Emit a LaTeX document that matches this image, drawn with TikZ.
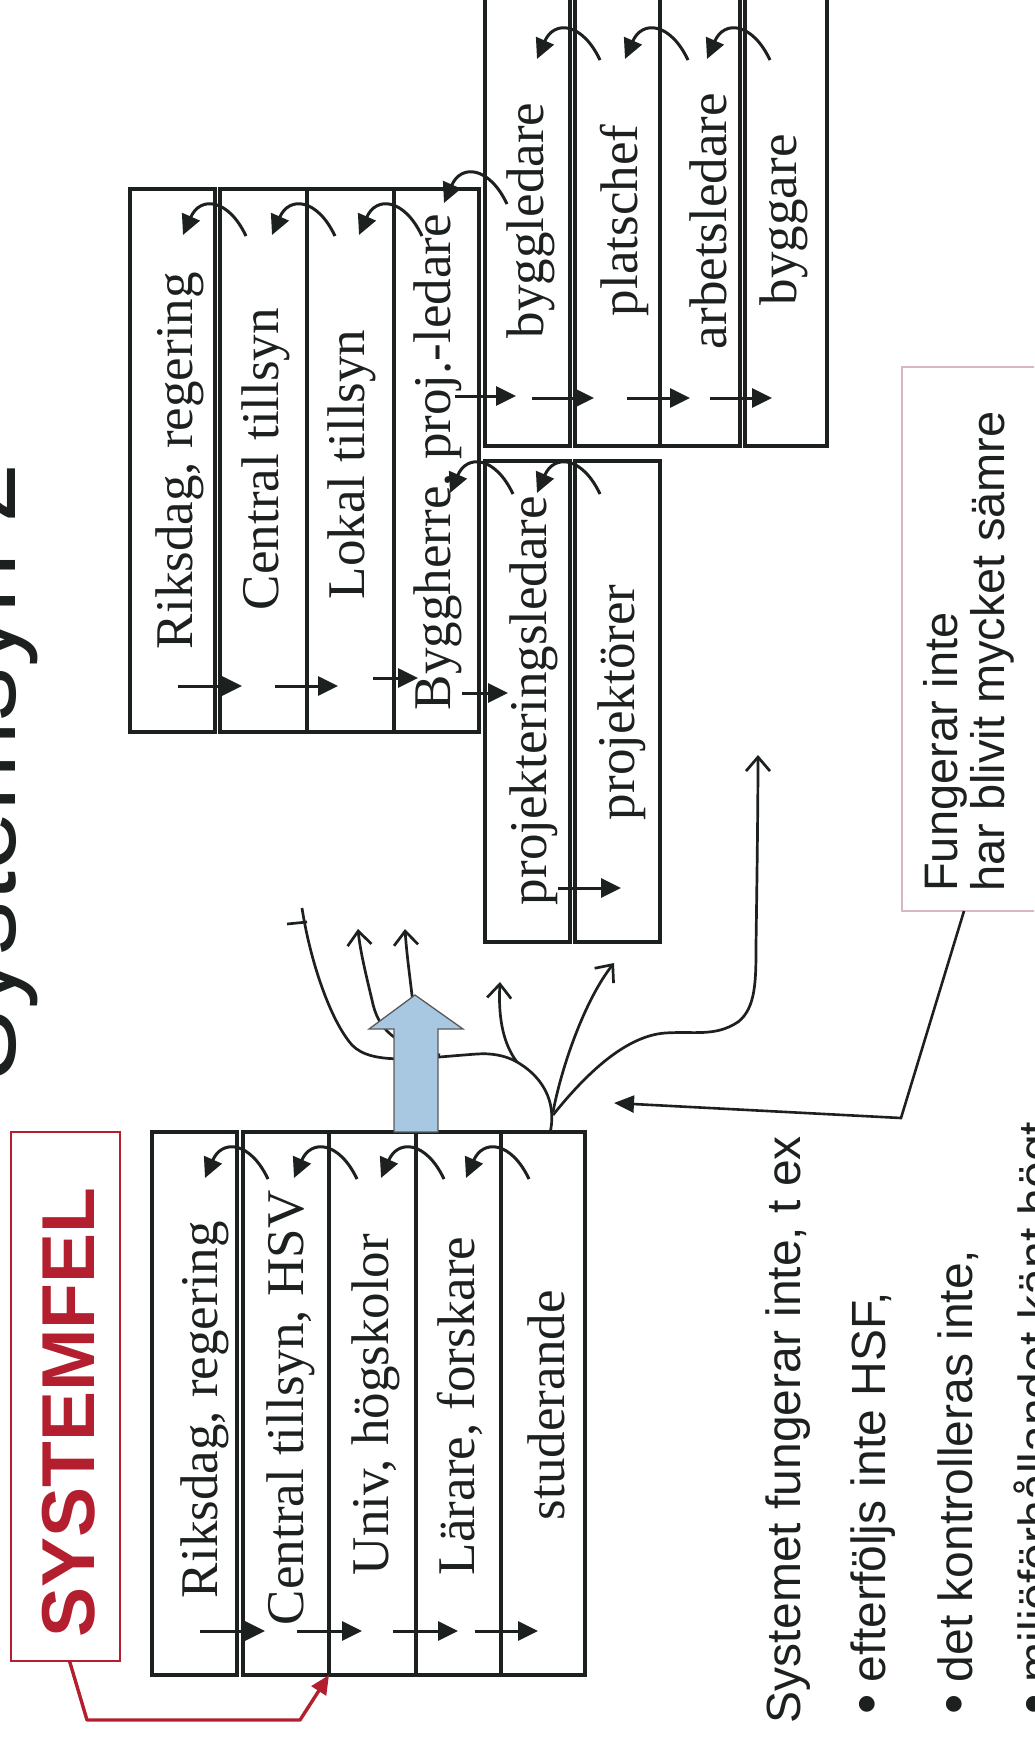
\documentclass[tikz,border=0pt]{standalone}
\usepackage{fontspec}
\setmainfont{Liberation Serif}
\newfontfamily\sansf{Liberation Sans}
\usetikzlibrary{arrows.meta}
\definecolor{ink}{HTML}{1C2120}
\definecolor{sysred}{HTML}{B31F2E}
\definecolor{pinkb}{HTML}{D9B7BF}
\definecolor{arrowblue}{HTML}{A8C7E0}
\newcommand\colbox[5]{\node[col, minimum width=#4pt, minimum height=#5pt] (#1) at (#2,#3) {};}
\newcommand\fbarc[2]{\draw[flow] ({#1+28},{#2+32}) .. controls ({#1+10},{#2-6}) and ({#1-18},{#2-8}) .. ({#1-35},{#2+31});}
\newcommand\fwd[3]{\draw[flow] (#1,#3) -- (#2,#3);}
\begin{document}
\begin{tikzpicture}[x=1pt,y=-1pt,
  col/.style={draw=ink, line width=3.1pt, rectangle, inner sep=0pt, outer sep=0pt, anchor=north west},
  lbl/.style={rotate=90, anchor=base west, inner sep=0pt, outer sep=0pt, text=ink, font=\fontsize{53}{60}\selectfont},
  slbl/.style={rotate=90, anchor=base west, inner sep=0pt, outer sep=0pt, text=ink, font=\sansf\fontsize{48}{56}\selectfont},
  bul/.style={rotate=90, anchor=base, inner sep=0pt, outer sep=0pt, text=ink, font=\sansf\fontsize{58}{60}\selectfont},
  flow/.style={draw=ink, line width=3pt, -{Triangle[length=20pt,width=19pt]}},
  branch/.style={draw=ink, line width=2.7pt, -{Straight Barb[length=14pt,width=24pt]}},
  branchline/.style={draw=ink, line width=2.7pt},
]
\useasboundingbox (0,0) rectangle (1034,1740);
\clip (0,0) rectangle (1034,1740);

% title
\node[rotate=90, anchor=base west, inner sep=0pt, text=ink, font=\sansf\fontsize{108}{120}\selectfont] (title) at (15,1082) {Systemsyn 2};

% upper stack
\colbox{U1}{130}{189}{85}{543}
\colbox{U2}{220}{189}{87}{543}
\colbox{U3}{307}{189}{87}{543}
\colbox{U4}{394}{189}{85}{543}
% byggledare stack
\colbox{B1}{485}{-20}{85}{466}
\colbox{B2}{575}{-20}{85}{466}
\colbox{B3}{660}{-20}{80}{466}
\colbox{B4}{745}{-20}{82}{466}
% projektering stack
\colbox{P1}{485}{461}{85}{481}
\colbox{P2}{575}{461}{85}{481}
% lower stack
\colbox{L1}{152}{1132}{85}{543}
\colbox{L2}{243}{1132}{86}{543}
\colbox{L3}{329}{1132}{87}{543}
\colbox{L4}{416}{1132}{85}{543}
\colbox{L5}{501}{1132}{84}{543}

% labels upper
\node[lbl] (tU1) at (192,649) {Riksdag, regering};
\node[lbl] (tU2) at (278,610) {Central tillsyn};
\node[lbl] (tU3) at (364,599) {Lokal tillsyn};
\node[lbl] (tU4) at (450,710) {Byggherre, proj.-ledare};
\node[lbl] (tB1) at (543,338) {byggledare};
\node[lbl] (tB2) at (637,316) {platschef};
\node[lbl] (tB3) at (726,349) {arbetsledare};
\node[lbl] (tB4) at (796,305) {byggare};
\node[lbl] (tP1) at (546,905) {projekteringsledare};
\node[lbl] (tP2) at (634,820) {projektörer};
% labels lower
\node[lbl] (tL1) at (217,1598) {Riksdag, regering};
\node[lbl] (tL2) at (303,1625) {Central tillsyn, HSV};
\node[lbl] (tL3) at (388,1575) {Univ, högskolor};
\node[lbl] (tL4) at (474,1575) {Lärare, forskare};
\node[lbl] (tL5) at (564,1520) {studerande};

% feedback arcs
\fbarc{218}{204}
\fbarc{307}{204}
\fbarc{394}{204}
\fbarc{479}{172}
\fbarc{572}{28}
\fbarc{660}{28}
\fbarc{742}{28}
\fbarc{485}{462}
\fbarc{572}{462}
\fbarc{240}{1147}
\fbarc{329}{1147}
\fbarc{416}{1147}
\fbarc{501}{1147}

% rightward arrows
\fwd{178}{242}{686}
\fwd{275}{338}{686}
\fwd{373}{418}{678}
\fwd{462}{508}{693}
\fwd{455}{516}{396}
\fwd{532}{594}{398}
\fwd{627}{690}{398}
\fwd{710}{772}{398}
\fwd{558}{621}{888}
\fwd{200}{265}{1631}
\fwd{297}{362}{1631}
\fwd{393}{458}{1631}
\fwd{475}{538}{1631}

% branching curves from studerande
\draw[branchline] (550,1133) .. controls (556,1108) and (548,1080) .. (517,1062) .. controls (505,1055) and (490,1053) .. (477,1054);
\draw[branchline] (477,1054) .. controls (420,1058) and (372,1066) .. (352,1045) .. controls (330,1020) and (310,960) .. (302,908);
\draw[line width=2.7pt, ink] (287,924) -- (307,922);
\draw[branch] (440,1055) .. controls (395,1045) and (378,1030) .. (372,1000) .. controls (366,975) and (360,950) .. (358,929);
\draw[branch] (417,1040) .. controls (412,990) and (407,960) .. (405,929);
\draw[branch] (517,1062) .. controls (504,1045) and (498,1020) .. (500,982);
\draw[branch] (553,1112) .. controls (562,1065) and (585,1000) .. (614,963);
\draw[branch] (553,1115) .. controls (585,1075) and (625,1036) .. (665,1033) .. controls (695,1031) and (715,1037) .. (738,1022) .. controls (756,1008) and (756,980) .. (756,945) .. controls (757,880) and (758,800) .. (758,755);

% big blue arrow
\filldraw[fill=arrowblue, draw=black!65, line width=1.3pt] (394,1132) -- (394,1029) -- (369,1029) -- (415,995) -- (463,1029) -- (438,1029) -- (438,1132) -- cycle;

% SYSTEMFEL
\node[draw=sysred, line width=2.8pt, rectangle, inner sep=0pt, outer sep=0pt, anchor=north west, minimum width=109pt, minimum height=529pt] (SF) at (11,1132) {};
\node[rotate=90, anchor=base west, inner sep=0pt, text=sysred, font=\sansf\bfseries\fontsize{75}{80}\selectfont] (tSF) at (94,1638) {SYSTEMFEL};
\coordinate (r1) at (87,1720);
\coordinate (r2) at (300,1720);
\draw[sysred, line width=3.4pt, line join=round, -{Triangle[length=19pt,width=17pt]}] ([xshift=4pt]SF.south) -- (r1) -- (r2) -- (L2.south east);

% Fungerar inte box
\node[draw=pinkb, line width=1.6pt, rectangle, inner sep=0pt, outer sep=0pt, anchor=north west, minimum width=150pt, minimum height=544pt] (FB) at (902,367) {};
\node[rotate=90, anchor=base west, inner sep=0pt, text=ink, font=\sansf\fontsize{47}{56}\selectfont] (tF1) at (957,892) {Fungerar inte};
\node[rotate=90, anchor=base west, inner sep=0pt, text=ink, font=\sansf\fontsize{47}{56}\selectfont] (tF2) at (1004,892) {har blivit mycket sämre};
\coordinate (c1) at (901,1118);
\coordinate (c2) at (614,1103);
\draw[ink, line width=2.6pt, -{Triangle[length=20pt,width=17pt]}] ([xshift=62pt]FB.south west) -- (c1) -- (c2);

% bullet text
\node[slbl] (s0) at (800,1723) {Systemet fungerar inte, t ex};
\node[bul] (b1) at (886,1704) {•};
\node[slbl] (s1) at (885,1682) {efterföljs inte HSF,};
\node[bul] (b2) at (973,1704) {•};
\node[slbl] (s2) at (972,1682) {det kontrolleras inte,};
\node[bul] (b3) at (1053,1704) {•};
\node[slbl] (s3) at (1052,1682) {miljöförhållandet känt högt};
\end{tikzpicture}
\end{document}
